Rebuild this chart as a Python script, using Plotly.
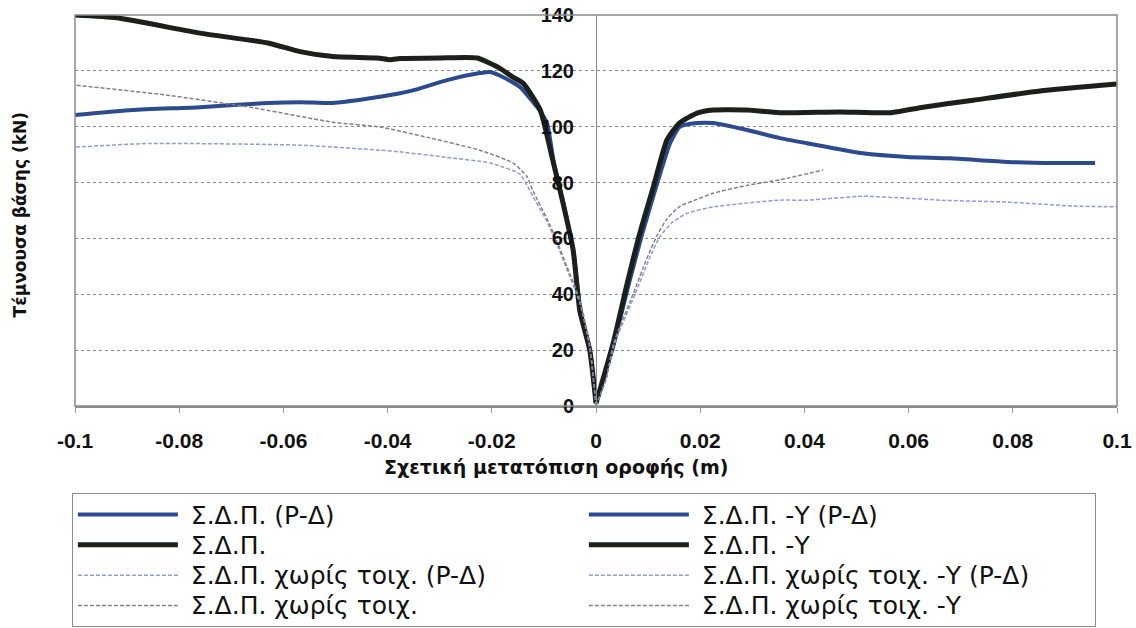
import plotly.graph_objects as go

# ---- data ----
sdp_pd_x = [0, -0.0012, -0.003, -0.0043, -0.0063, -0.0081, -0.0094, -0.0113, -0.0146, -0.0179, -0.0203,
            -0.0223, -0.0286, -0.0351, -0.0376, -0.044, -0.0505, -0.0568, -0.0631, -0.076, -0.0889, -0.1]
sdp_pd_y = [1, 20, 34, 55, 73, 87, 101.3, 107, 114.2, 117.8, 119.6,
            119.2, 116.7, 113, 112, 110, 108.5, 108.8, 108.5, 107, 106, 104.2]

sdp_y_pd_x = [0, 0.0034, 0.0062, 0.0087, 0.0113, 0.0142, 0.0161, 0.0194, 0.0225, 0.029, 0.0353,
              0.0405, 0.0512, 0.0597, 0.0679, 0.0789, 0.0885, 0.0958]
sdp_y_pd_y = [1, 22, 43, 60.5, 77, 94, 100, 101.3, 101.3, 98.8, 95.9,
              94.1, 90.5, 89.2, 88.7, 87.4, 87, 87]

sdp_x = [0, -0.0012, -0.0031, -0.0044, -0.0065, -0.0083, -0.0107, -0.014, -0.016, -0.0185, -0.0228,
         -0.03, -0.0376, -0.0395, -0.042, -0.0505, -0.0568, -0.063, -0.076, -0.092, -0.1]
sdp_y = [1, 20, 34, 56, 74, 88, 106, 115.6, 117.8, 121, 124.6,
         124.6, 124.4, 124.0, 124.6, 125.1, 126.9, 130, 133.5, 139, 140]

sdp_neg_x = [0, 0.0033, 0.006, 0.0084, 0.011, 0.0136, 0.016, 0.0194, 0.0225, 0.029, 0.0353,
             0.0468, 0.0564, 0.0628, 0.0724, 0.0852, 0.1]
sdp_neg_y = [1, 22.5, 44, 61.8, 78.4, 95.2, 101.3, 104.9, 106, 106, 105,
             105.3, 105, 107, 109.5, 112.8, 115.3]

nw_pd_x = [0, -0.0012, -0.0031, -0.0056, -0.0075, -0.0094, -0.0121, -0.0146, -0.0203, -0.0286,
           -0.0376, -0.0415, -0.0568, -0.0856, -0.1]
nw_pd_y = [0, 21, 37, 49, 58, 66, 75, 83, 87, 89,
           91, 91.6, 93.4, 94, 92.7]

nw_y_pd_x = [0, 0.002, 0.0035, 0.0075, 0.0103, 0.0122, 0.0148, 0.0175, 0.0225, 0.0353, 0.0405,
             0.0512, 0.0597, 0.066, 0.0789, 0.0916, 0.1]
nw_y_pd_y = [0, 10, 22, 40, 53, 60.5, 66, 69, 71.3, 73.7, 73.7,
             75.1, 74.4, 73.7, 73, 71.6, 71.3]

nw_x = [0, -0.0012, -0.0031, -0.0056, -0.0075, -0.0094, -0.0121, -0.0132, -0.0159, -0.0223,
        -0.0319, -0.0415, -0.0505, -0.0664, -0.0823, -0.1]
nw_y = [0, 22, 38, 50, 59, 67, 77, 82, 87, 91.6,
        96, 99.9, 101.6, 107, 111.3, 114.9]

nw_y_x = [0, 0.002, 0.0033, 0.0071, 0.0098, 0.0117, 0.0136, 0.0161, 0.0194, 0.0225, 0.029, 0.0353, 0.0436]
nw_y_y = [0, 10, 22, 40, 53, 61, 67, 71.5, 74, 76.2, 79, 81, 84.5]

x_tickvals = [-0.1, -0.08, -0.06, -0.04, -0.02, 0, 0.02, 0.04, 0.06, 0.08, 0.1]
x_ticktext = ["-0.1", "-0.08", "-0.06", "-0.04", "-0.02", "0", "0.02", "0.04", "0.06", "0.08", "0.1"]
y_tickvals = [0, 20, 40, 60, 80, 100, 120, 140]
y_ticktext = ["0", "20", "40", "60", "80", "100", "120", "140"]

names = ["Σ.Δ.Π. (P-Δ)", "Σ.Δ.Π. -Y (P-Δ)", "Σ.Δ.Π.", "Σ.Δ.Π. -Y",
         "Σ.Δ.Π. χωρίς τοιχ. (P-Δ)", "Σ.Δ.Π. χωρίς τοιχ. -Y (P-Δ)",
         "Σ.Δ.Π. χωρίς τοιχ.", "Σ.Δ.Π. χωρίς τοιχ. -Y"]

BLUE = "#2c4a8e"
BLACK = "#1b201d"
LBLUE = "#8e9dd6"
GRAY = "#80808c"

series = [
    (sdp_pd_x, sdp_pd_y, BLUE, 4, "solid"),
    (sdp_y_pd_x, sdp_y_pd_y, BLUE, 4, "solid"),
    (sdp_x, sdp_y, BLACK, 5, "solid"),
    (sdp_neg_x, sdp_neg_y, BLACK, 5, "solid"),
    (nw_pd_x, nw_pd_y, LBLUE, 1.5, "4px,2px"),
    (nw_y_pd_x, nw_y_pd_y, LBLUE, 1.5, "4px,2px"),
    (nw_x, nw_y, GRAY, 1.5, "4px,2px"),
    (nw_y_x, nw_y_y, GRAY, 1.5, "4px,2px"),
]

FONT = "Liberation Sans, Arial, sans-serif"
WIDE = "DejaVu Sans, Verdana, sans-serif"

fig = go.Figure()
for (xs, ys, c, w, d), n in zip(series, names):
    fig.add_trace(go.Scatter(x=xs, y=ys, mode="lines", name=n,
                             line=dict(color=c, width=w, dash=d, shape="spline", smoothing=0.5)))

fig.update_layout(
    width=1136, height=628,
    margin=dict(l=75, r=19, t=15, b=222, autoexpand=False),
    paper_bgcolor="white", plot_bgcolor="white",
    font=dict(family=FONT, color="#111"),
    showlegend=True,
    legend=dict(
        orientation="h", x=-0.003, xanchor="left", y=-0.2235, yanchor="top",
        entrywidth=388, entrywidthmode="pixels", itemwidth=108,
        font=dict(family=WIDE, size=21, color="#111"),
        bordercolor="#8c8c8c", borderwidth=1, bgcolor="white",
        tracegroupgap=0, traceorder="normal",
    ),
    xaxis=dict(
        range=[-0.1, 0.1], tickvals=x_tickvals, ticktext=x_ticktext,
        showgrid=False, zeroline=False,
        showline=True, linecolor="#8a8a8a", linewidth=2,
        ticks="outside", ticklen=5, tickcolor="#999",
        tickfont=dict(family=FONT, size=21, weight="bold", color="#111"),
        ticklabelstandoff=10,
    ),
    yaxis=dict(
        range=[0, 140], tickvals=y_tickvals, ticktext=y_ticktext,
        anchor="free", position=0.5,
        showgrid=True, gridcolor="#8a8a8a", gridwidth=1, griddash="dot",
        zeroline=False, showline=True, linecolor="#8a8a96", linewidth=1,
        ticks="", ticklabelstandoff=18,
        tickfont=dict(family=FONT, size=20, weight="bold", color="#111"),
    ),
    shapes=[dict(type="rect", xref="paper", yref="paper", x0=0, y0=0, x1=1, y1=1,
                 line=dict(color="#8c8c8c", width=1.5), layer="above")],
    annotations=[
        dict(text="Τέμνουσα βάσης (kN)", xref="paper", yref="paper", x=-0.0528, y=0.49,
             textangle=-90, showarrow=False, xanchor="center", yanchor="middle",
             font=dict(family=WIDE, size=17, weight="bold", color="#111")),
        dict(text="Σχετική μετατόπιση οροφής (m)", xref="paper", yref="paper", x=0.4617, y=-0.157,
             showarrow=False, xanchor="center", yanchor="middle",
             font=dict(family=WIDE, size=19, weight="bold", color="#111")),
    ],
)

post = """
var gd = document.getElementById('{plot_id}');
function fixLegend(){
  gd.querySelectorAll('.legendlines path').forEach(function(p){ p.setAttribute('d','M5,0h100'); });
  gd.querySelectorAll('.legendtext').forEach(function(t){
    t.style.fontSize = '25px';
    t.setAttribute('y', '9');
  });
}
fixLegend();
gd.on('plotly_afterplot', fixLegend);
"""
fig.write_html("out.html", post_script=post)
